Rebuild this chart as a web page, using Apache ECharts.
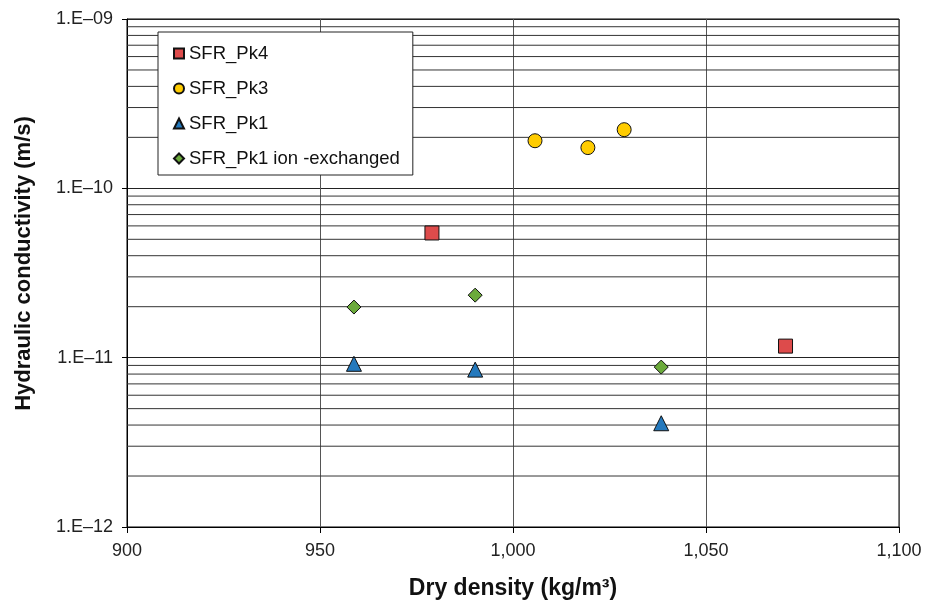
<!DOCTYPE html>
<html lang="en">

<head>
    <meta charset="UTF-8">
    <title>Hydraulic conductivity vs dry density</title>
    <script src="https://cdn.jsdelivr.net/npm/echarts@6/dist/echarts.min.js"></script>
    <style>
        body { margin: 0; background: #fff; }
    </style>
</head>

<body>
    <div id="myChart" style="width: 926px; height: 603px;"></div>
    <script>
        // dry density (kg/m3), hydraulic conductivity (m/s)
        const pk4X = [979, 1070.6];
        const pk4Y = [5.45e-11, 1.17e-11];
        const pk3X = [1005.7, 1019.4, 1028.8];
        const pk3Y = [1.91e-10, 1.74e-10, 2.22e-10];
        const pk1X = [958.8, 990.2, 1038.4];
        const pk1Y = [9.2e-12, 8.5e-12, 4.1e-12];
        const ionX = [958.8, 990.2, 1038.4];
        const ionY = [1.99e-11, 2.34e-11, 8.8e-12];

        // minor grid lines at 2..9 of each decade
        const decades = [1e-12, 1e-11, 1e-10];
        const minorSteps = [2, 3, 4, 5, 6, 7, 8, 9];
        const xRange = [900, 1100];

        const font = 'Liberation Sans, Arial, sans-serif';
        const myChart = echarts.init(document.getElementById('myChart'));

        const zip = (xs, ys) => xs.map((x, i) => [x, ys[i]]);

        // one line series for the minor grid, broken with nulls between lines
        const minorData = [];
        decades.forEach(d => minorSteps.forEach(m => {
            minorData.push([xRange[0], d * m], [xRange[1], d * m], [null, null]);
        }));

        const marker = { borderColor: '#111', borderWidth: 1, opacity: 1 };

        const option = {
            animation: false,
            grid: {
                left: 127, right: 27, top: 19, bottom: 76,
                outerBoundsMode: 'none',
                show: true, borderColor: '#000', borderWidth: 1
            },
            legend: {
                orient: 'vertical',
                left: 158, top: 32,
                padding: [12, 13, 7, 15],
                itemWidth: 10, itemHeight: 10, itemGap: 16,
                backgroundColor: '#fff',
                borderColor: '#222', borderWidth: 1,
                textStyle: { fontFamily: font, fontSize: 18.5, color: '#111' },
                data: [
                    { name: 'SFR_Pk4', icon: 'rect' },
                    { name: 'SFR_Pk3', icon: 'circle' },
                    { name: 'SFR_Pk1', icon: 'triangle' },
                    { name: 'SFR_Pk1 ion -exchanged', icon: 'diamond' }
                ]
            },
            xAxis: {
                type: 'value',
                min: xRange[0], max: xRange[1], interval: 50,
                name: 'Dry density (kg/m³)',
                nameLocation: 'middle', nameGap: 50,
                nameTextStyle: { fontFamily: font, fontSize: 23, fontWeight: 'bold', color: '#111' },
                axisLine: { lineStyle: { color: '#000' } },
                axisTick: { show: true, length: 6, lineStyle: { color: '#000' } },
                axisLabel: {
                    fontFamily: font, fontSize: 18, color: '#222', margin: 15,
                    formatter: v => v.toLocaleString('en-US')
                },
                splitLine: { show: true, lineStyle: { color: '#555', width: 1 } }
            },
            yAxis: {
                type: 'log',
                logBase: 10,
                min: 1e-12, max: 1e-9,
                name: 'Hydraulic conductivity (m/s)',
                nameLocation: 'middle', nameGap: 92,
                nameTextStyle: {
                    fontFamily: font, fontSize: 22, fontWeight: 'bold', color: '#111',
                    padding: [0, 0, 0, 19]
                },
                axisLine: { show: true, lineStyle: { color: '#000' } },
                axisTick: { show: true, length: 5, lineStyle: { color: '#000' } },
                axisLabel: {
                    fontFamily: font, fontSize: 18, color: '#222', margin: 14,
                    formatter: v => '1.E–' + String(-Math.round(Math.log10(v))).padStart(2, '0')
                },
                splitLine: { show: true, lineStyle: { color: '#222', width: 1 } }
            },
            series: [
                {
                    name: 'minor grid', type: 'line', silent: true, z: 1,
                    showSymbol: false, symbol: 'none', connectNulls: false,
                    lineStyle: { color: '#333', width: 1 },
                    data: minorData
                },
                {
                    name: 'SFR_Pk4', type: 'scatter', symbol: 'rect', symbolSize: 14, z: 3,
                    itemStyle: Object.assign({ color: '#DD4B4B' }, marker),
                    data: zip(pk4X, pk4Y)
                },
                {
                    name: 'SFR_Pk3', type: 'scatter', symbol: 'circle', symbolSize: 14, z: 3,
                    itemStyle: Object.assign({ color: '#FFCC00' }, marker),
                    data: zip(pk3X, pk3Y)
                },
                {
                    name: 'SFR_Pk1', type: 'scatter', symbol: 'triangle', symbolSize: 15, z: 3,
                    itemStyle: Object.assign({ color: '#2479BD' }, marker),
                    data: zip(pk1X, pk1Y)
                },
                {
                    name: 'SFR_Pk1 ion -exchanged', type: 'scatter', symbol: 'diamond', symbolSize: 14, z: 3,
                    itemStyle: Object.assign({ color: '#6BAA3B' }, marker),
                    data: zip(ionX, ionY)
                }
            ]
        };
        myChart.setOption(option);
    </script>
</body>

</html>
